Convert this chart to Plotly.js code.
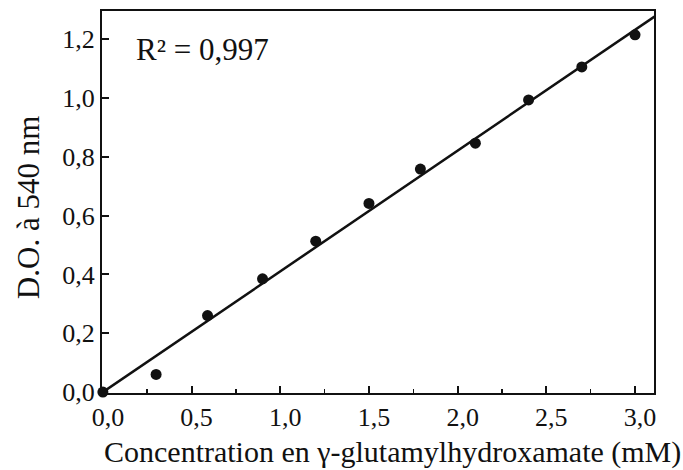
<!DOCTYPE html>
<html>
<head>
<meta charset="utf-8">
<script src="https://cdn.plot.ly/plotly-3.0.1.min.js"></script>
<style>html,body{margin:0;padding:0;background:#fff;}#chart{width:683px;height:470px;}</style>
</head>
<body>
<div id="chart"></div>
<script>
// Measured points
const concentration = [0, 0.30, 0.59, 0.90, 1.20, 1.50, 1.79, 2.10, 2.40, 2.70, 3.00];
const absorbance    = [0, 0.06, 0.26, 0.385, 0.513, 0.641, 0.758, 0.846, 0.993, 1.105, 1.214];
// Regression line endpoints
const fitX = [0, 3.11];
const fitY = [0, 1.276];
const xTicks = [0, 0.5, 1.0, 1.5, 2.0, 2.5, 3.0];
const yTicks = [0, 0.2, 0.4, 0.6, 0.8, 1.0, 1.2];
const r2Label = "R² = 0,997";
const xTitle = "Concentration en γ-glutamylhydroxamate (mM)";
const yTitle = "D.O. à 540 nm";

const serif = "Liberation Serif, Times New Roman, serif";

const traces = [
  {x: fitX, y: fitY, mode: "lines", line: {color: "#111", width: 2.5}, hoverinfo: "skip", showlegend: false, cliponaxis: false},
  {x: concentration, y: absorbance, mode: "markers", marker: {color: "#111", size: 11}, showlegend: false, cliponaxis: false}
];

const layout = {
  width: 683, height: 470,
  margin: {l: 102, r: 29, t: 11, b: 77},
  paper_bgcolor: "#fff", plot_bgcolor: "#fff",
  separators: ",.",
  font: {family: serif, color: "#111", size: 26},
  showlegend: false,
  xaxis: {
    range: [-0.005, 3.107],
    tickvals: xTicks, tickformat: ".1f",
    ticks: "inside", ticklen: 7, tickwidth: 2, tickcolor: "#111",
    minor: {dtick: 0.25, tick0: 0, ticks: "inside", ticklen: 4, tickwidth: 1.5, tickcolor: "#111"},
    showline: true, linecolor: "#111", linewidth: 2, mirror: true,
    showgrid: false, zeroline: false,
    tickfont: {family: serif, size: 26, color: "#111"},
    ticklabelshift: 5
  },
  yaxis: {
    range: [-0.003, 1.295],
    tickvals: yTicks, tickformat: ".1f",
    ticks: "inside", ticklen: 7, tickwidth: 2, tickcolor: "#111",
    showline: true, linecolor: "#111", linewidth: 2, mirror: true,
    showgrid: false, zeroline: false,
    tickfont: {family: serif, size: 26, color: "#111"}
  },
  annotations: [
    {xref: "paper", yref: "paper", x: 0.058, y: 0.9, xanchor: "left", yanchor: "middle",
     text: r2Label, showarrow: false, font: {family: serif, size: 31, color: "#111"}},
    {xref: "paper", yref: "paper", x: 0.527, y: -0.155, xanchor: "center", yanchor: "middle",
     text: xTitle, showarrow: false, font: {family: serif, size: 30, color: "#111"}},
    {xref: "paper", yref: "paper", x: -0.134, y: 0.484, xanchor: "center", yanchor: "middle", textangle: -90,
     text: yTitle, showarrow: false, font: {family: serif, size: 31, color: "#111"}}
  ]
};

Plotly.newPlot("chart", traces, layout, {staticPlot: true, displayModeBar: false});
</script>
</body>
</html>
